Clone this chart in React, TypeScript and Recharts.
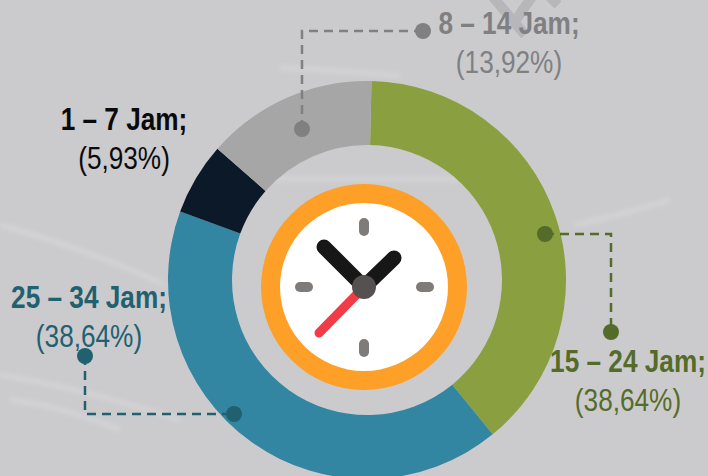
import { Pie, PieChart, Cell } from 'recharts';

const segments = ['15 – 24 Jam', '25 – 34 Jam', '1 – 7 Jam', '8 – 14 Jam'];
// arcs: the blue one is drawn larger than its printed 38,64% label
const shares = [38.76, 41.47, 5.87, 13.9];
const sliceColors = ['#8a9f3f', '#3286a1', '#0b1929', '#a6a6a6'];

const chartData = segments.map((name, i) => ({ name, value: shares[i] }));

const callouts = [
  { title: '8 – 14 Jam;', pct: '(13,92%)', x: 509, y: 34, color: '#808082', path: 'M302 129V31H423', dots: [[302, 129], [423, 31]] },
  { title: '1 – 7 Jam;', pct: '(5,93%)', x: 124, y: 130, color: '#0a0a0a', path: '', dots: [] },
  { title: '25 – 34 Jam;', pct: '(38,64%)', x: 89, y: 308, color: '#21606f', path: 'M85 356V414H234', dots: [[85, 356], [234, 414]] },
  { title: '15 – 24 Jam;', pct: '(38,64%)', x: 628, y: 372, color: '#556b2a', path: 'M545 234H611V332', dots: [[545, 234], [611, 332]] },
];

const streaks = [
  'M280 68Q340 70 400 76',
  'M0 225Q90 250 165 285',
  'M0 375Q70 385 180 420',
  'M10 400Q60 405 120 430',
  'M260 179H460',
  'M575 225Q620 215 670 200',
];

// no narrow face is installed, so Liberation Sans is squeezed horizontally
const narrow = (x: number, y: number) => `translate(${x} ${y}) scale(0.845 1)`;

function Clock() {
  const cx = 364;
  const cy = 287;
  return (
    <g>
      <circle cx={cx} cy={cy} r={103} fill="#fe9f27" />
      <circle cx={cx} cy={cy} r={84} fill="#ffffff" />
      <g stroke="#7f7b78" strokeWidth={10} strokeLinecap="round">
        <line x1={cx} y1={cy - 64} x2={cx} y2={cy - 56} />
        <line x1={cx} y1={cy + 57} x2={cx} y2={cy + 65} />
        <line x1={cx - 64} y1={cy} x2={cx - 56} y2={cy} />
        <line x1={cx + 57} y1={cy} x2={cx + 65} y2={cy} />
      </g>
      <line x1={cx} y1={cy} x2={319} y2={333} stroke="#f23b47" strokeWidth={9} strokeLinecap="round" />
      <line x1={cx} y1={cy} x2={324} y2={247} stroke="#171717" strokeWidth={15} strokeLinecap="round" />
      <line x1={cx} y1={cy} x2={394} y2={258} stroke="#171717" strokeWidth={15} strokeLinecap="round" />
      <circle cx={cx} cy={cy} r={12} fill="#565151" />
    </g>
  );
}

export default function App() {
  return (
    <div style={{ position: 'fixed', left: 0, top: 0, width: 708, height: 476, overflow: 'hidden', background: '#cbcbcd' }}>
      <svg width={708} height={476} style={{ position: 'absolute', left: 0, top: 0 }}>
        <defs>
          <filter id="soft"><feGaussianBlur stdDeviation="2.5" /></filter>
        </defs>
        <g fill="none" stroke="#d9d9db" strokeWidth={3} filter="url(#soft)">
          {streaks.map((d) => <path key={d} d={d} />)}
        </g>
        {/* watermark fragment bleeding off the top edge */}
        <g fill="none" stroke="#b7b7b9" strokeWidth={10}>
          <path d="M493 -3L525 35" />
          <path d="M515 22Q522 10 532 -3" />
          <path d="M548 -5L558 5" />
        </g>
      </svg>
      <div style={{ position: 'absolute', left: 0, top: 0 }}>
        <PieChart width={708} height={476} margin={{ top: 0, right: 0, bottom: 0, left: 0 }}>
          <Pie
            data={chartData}
            dataKey="value"
            nameKey="name"
            cx={367}
            cy={280}
            innerRadius={135}
            outerRadius={199}
            startAngle={88.7}
            endAngle={-271.3}
            stroke="none"
            isAnimationActive={false}
          >
            {chartData.map((d, i) => <Cell key={d.name} fill={sliceColors[i]} />)}
          </Pie>
        </PieChart>
      </div>
      <svg width={708} height={476} style={{ position: 'absolute', left: 0, top: 0 }}>
        <Clock />
        {callouts.map((c) => (
          <g key={c.title}>
            {c.path && <path d={c.path} fill="none" stroke={c.color} strokeWidth={2.5} strokeDasharray="9 6" />}
            {c.dots.map(([x, y]) => <circle key={`${x}-${y}`} cx={x} cy={y} r={8} fill={c.color} />)}
            <text transform={narrow(c.x, c.y)} textAnchor="middle" fontFamily="Liberation Sans" fontWeight={700} fontSize={31} fill={c.color}>{c.title}</text>
            <text transform={narrow(c.x, c.y + 39)} textAnchor="middle" fontFamily="Liberation Sans" fontSize={31} fill={c.color}>{c.pct}</text>
          </g>
        ))}
      </svg>
    </div>
  );
}
